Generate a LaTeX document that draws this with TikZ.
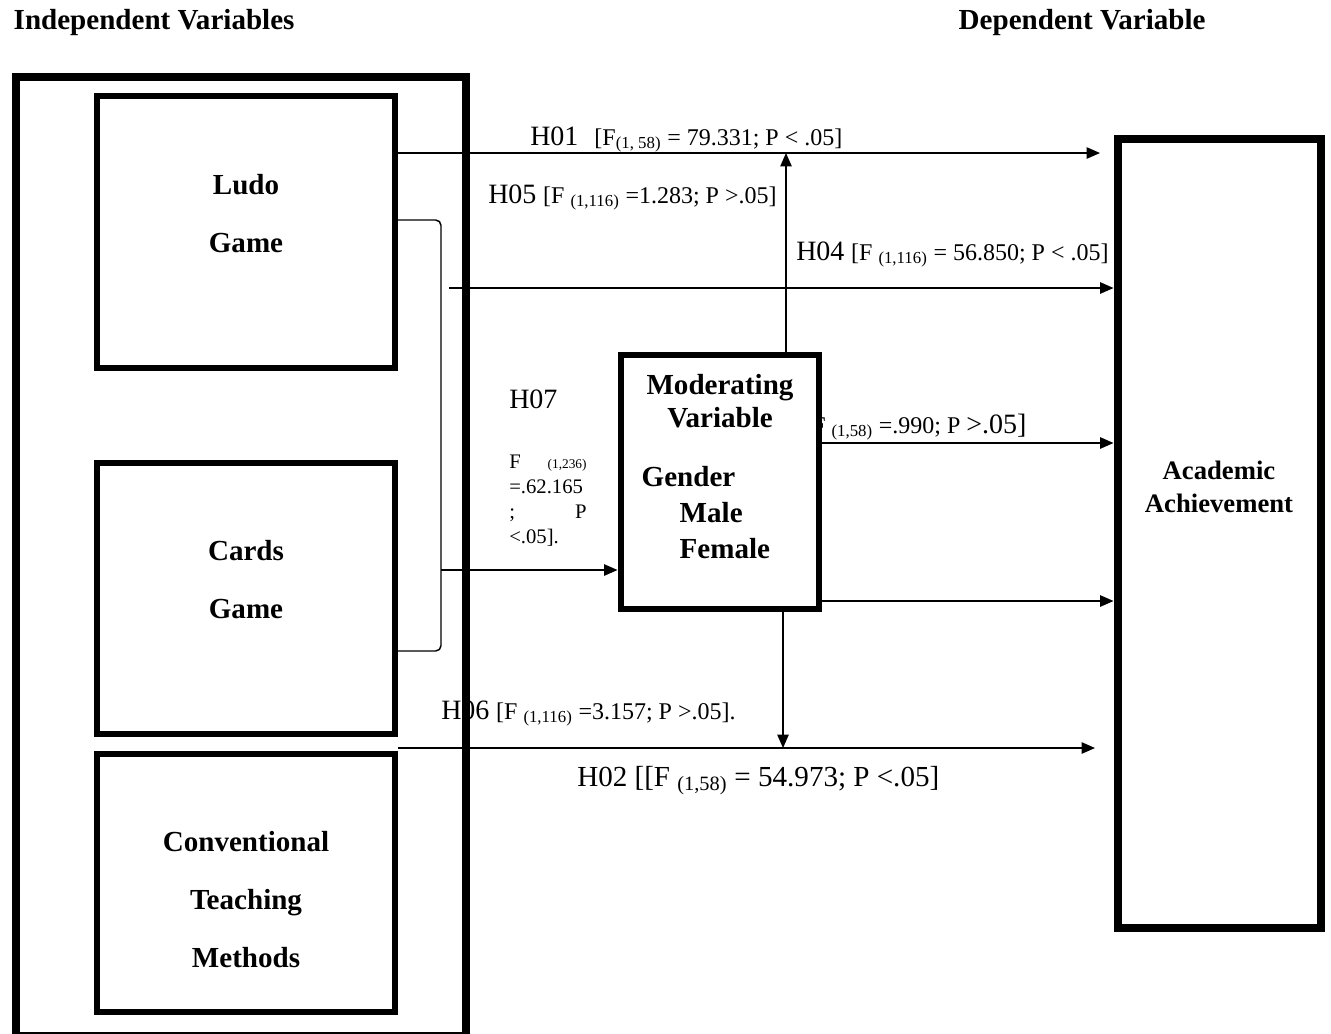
\documentclass[tikz,border=0pt]{standalone}
\usepackage{fontspec}
\setmainfont{Liberation Serif}
\usetikzlibrary{arrows.meta}

\newcommand\hyptext{\fontsize{21}{25}\selectfont}
\newcommand\stattext{\fontsize{18}{21}\selectfont}

\begin{document}
\begin{tikzpicture}[
  x=0.75pt, y=-0.75pt,
  box/.style={draw, line width=4.5pt, inner sep=0pt},
  heavybox/.style={draw, line width=6pt, inner sep=0pt},
  boxtext/.style={font=\bfseries\fontsize{21.8}{43.5}\selectfont, align=center},
  headtext/.style={font=\bfseries\fontsize{21.8}{25}\selectfont, anchor=base west},
  hyp/.style={anchor=base west, inner sep=0pt},
  arrow/.style={-{Triangle[length=10pt,width=8.5pt]}, line width=1.1pt},
  thinline/.style={line width=1.1pt}
]
\useasboundingbox (0,0) rectangle (1331,1033);

% headings
\node[headtext] (indep) at (9,29) {Independent Variables};
\node[headtext] (dep) at (954,29) {Dependent Variable};

% hypothesis labels
\node[hyp] (h01) at (530,145) {{\hyptext H01}\hspace{12pt}{\stattext [F\textsubscript{(1, 58)} = 79.331; P < .05]}};
\node[hyp] (h05) at (488,203) {{\hyptext H05}\hspace{5pt}{\stattext [F \textsubscript{(1,116)} =1.283; P >.05]}};
\node[hyp] (h04) at (796,260) {{\hyptext H04}\hspace{5pt}{\stattext [F \textsubscript{(1,116)} = 56.850; P < .05]}};
\node[hyp] (h07) at (509,408) {\hyptext H07};
\node[anchor=north west, inner sep=0pt, align=left, font=\fontsize{15.5}{18.75}\selectfont] (h07stats) at (509,455)
  {\makebox[58pt][l]{F\hfill{\fontsize{10}{12}\selectfont (1,236)}}\\
   =.62.165\\
   \makebox[58pt][l]{;\hfill P}\\
   <.05].};
\node[hyp] (h03) at (812,433) {\stattext F \textsubscript{(1,58)} =.990; P {\hyptext >.05]}};
\node[hyp] (h06) at (441,719) {{\hyptext H06}\hspace{5pt}{\stattext [F \textsubscript{(1,116)} =3.157; P >.05].}};
\node[hyp] (h02) at (577,786) {\fontsize{21.8}{25}\selectfont H02 [[F \textsubscript{(1,58)} = 54.973; P <.05]};

% independent variables
\node[heavybox, minimum width=449.5*0.75pt, minimum height=959*0.75pt] (indepbox) at (240.75,556.5) {};
\node[box, minimum width=298*0.75pt, minimum height=272*0.75pt] (ludo) at (245.5,232) {};
\node[box, minimum width=298*0.75pt, minimum height=271*0.75pt] (cards) at (245.5,598.5) {};
\node[box, minimum width=298*0.75pt, minimum height=258*0.75pt] (conv) at (245.5,883) {};
\node[boxtext] (ludotext) at (246,214) {Ludo\\Game};
\node[boxtext] (cardstext) at (246,580) {Cards\\Game};
\node[boxtext] (convtext) at (246,900) {Conventional\\Teaching\\Methods};

% moderating variable
\node[box, fill=white, minimum width=198*0.75pt, minimum height=254*0.75pt] (moderator) at (719.5,482) {};
\node[boxtext, font=\bfseries\fontsize{21.8}{25}\selectfont] (modtext) at (720,401) {Moderating\\Variable};
\node[anchor=west, align=left, font=\bfseries\fontsize{21.8}{27}\selectfont] (gender) at (637,513)
  {Gender\\\hspace*{28.5pt}Male\\\hspace*{28.5pt}Female};

% dependent variable
\node[heavybox, minimum width=203.5*0.75pt, minimum height=789*0.75pt] (academic) at (1219.25,533.5) {};
\node[boxtext, font=\bfseries\fontsize{20}{24.5}\selectfont] (acadtext) at (1219,487) {Academic\\Achievement};

% connectors
\coordinate (h01tip) at (1100,153);
\coordinate (h05foot) at (786,153);
\coordinate (h04start) at (449,288);
\coordinate (h03row) at (900,443);
\coordinate (lowrow) at (900,601);
\coordinate (brtop) at (441,220);
\coordinate (brmid) at (441,570);
\coordinate (brbot) at (441,651);
\coordinate (h06tip) at (783,748);
\coordinate (h02tip) at (1095,748);

\draw[arrow] (ludo.east |- h01tip) -- (h01tip);
\draw[arrow] (moderator.north -| h05foot) -- (h05foot);
\draw[arrow] (h04start) -- (academic.west |- h04start);
\draw[arrow] (moderator.east |- h03row) -- (academic.west |- h03row);
\draw[arrow] (moderator.east |- lowrow) -- (academic.west |- lowrow);
\draw[thinline, rounded corners=4pt] (ludo.east |- brtop) -- (brtop) -- (brbot) -- (cards.east |- brbot);
\draw[arrow] (brmid) -- (moderator.west |- brmid);
\draw[arrow] (moderator.south -| h06tip) -- (h06tip);
\draw[arrow] (conv.east |- h02tip) -- (h02tip);
\end{tikzpicture}
\end{document}
